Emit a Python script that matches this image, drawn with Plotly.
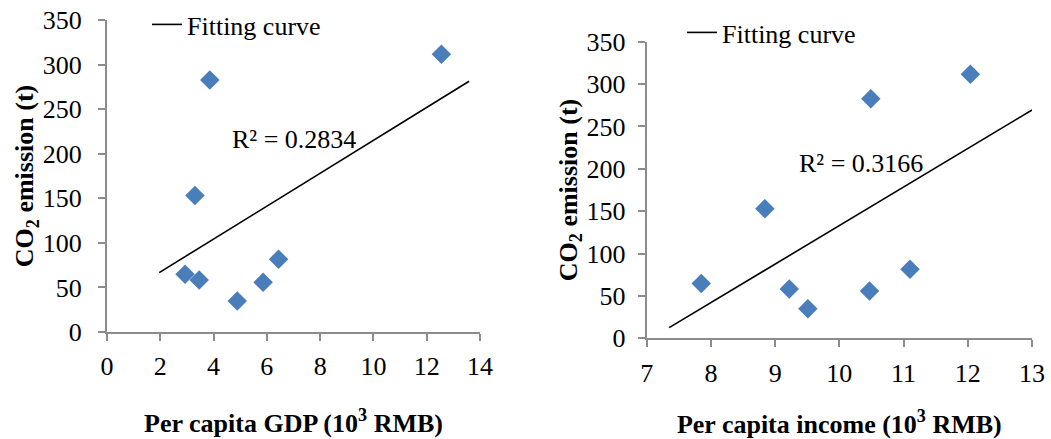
import numpy as np
import plotly.graph_objects as go

# ---- data ----
co2 = [282.8, 311.6, 153.0, 64.7, 58.3, 34.8, 55.7, 81.6]
gdp = [3.86, 12.55, 3.30, 2.93, 3.46, 4.89, 5.86, 6.44]
income = [10.49, 12.04, 8.84, 7.85, 9.22, 9.51, 10.47, 11.10]

gdp_fit_range = [1.96, 13.59]
income_fit_range = [7.35, 13.0]

r2_gdp = "R² = 0.2834"
r2_income = "R² = 0.3166"

gdp_ticks = [0, 2, 4, 6, 8, 10, 12, 14]
income_ticks = [7, 8, 9, 10, 11, 12, 13]
co2_ticks = [0, 50, 100, 150, 200, 250, 300, 350]

# ---- fits ----
def fit(x, y, rng):
    k, b = np.polyfit(x, y, 1)
    xs = np.array(rng)
    return xs, k * xs + b

fx1, fy1 = fit(gdp, co2, gdp_fit_range)
fx2, fy2 = fit(income, co2, income_fit_range)

FONT = "Liberation Serif"
BLUE = "#4a7ebb"
AXIS = "#8c8c8c"

fig = go.Figure()
fig.add_trace(go.Scatter(x=gdp, y=co2, mode="markers", xaxis="x", yaxis="y",
                         marker=dict(symbol="diamond", size=15, color=BLUE),
                         showlegend=False))
fig.add_trace(go.Scatter(x=fx1, y=fy1, mode="lines", xaxis="x", yaxis="y",
                         line=dict(color="black", width=1.6),
                         name="Fitting curve", legend="legend"))
fig.add_trace(go.Scatter(x=income, y=co2, mode="markers", xaxis="x2", yaxis="y2",
                         marker=dict(symbol="diamond", size=15, color=BLUE),
                         showlegend=False))
fig.add_trace(go.Scatter(x=fx2, y=fy2, mode="lines", xaxis="x2", yaxis="y2",
                         line=dict(color="black", width=1.6),
                         name="Fitting curve", legend="legend2"))

W, H = 1051, 439

TF = dict(family=FONT, size=26, color="black")

def axis_common():
    return dict(showgrid=False, zeroline=False, showline=True, linecolor=AXIS,
                linewidth=2, ticks="outside", ticklen=7, tickcolor=AXIS,
                tickwidth=2, automargin=False, tickfont=TF)

xa1 = axis_common()
xa1.update(domain=[107 / W, 480 / W], range=[0, 14], tickvals=gdp_ticks,
           anchor="y", ticklabelstandoff=3,
           title=dict(text="<b>Per capita GDP (10<sup>3</sup> RMB)</b>",
                      font=TF, standoff=34))
ya1 = axis_common()
ya1.update(domain=[1 - 332 / H, 1 - 20 / H], range=[0, 350], tickvals=co2_ticks,
           anchor="x", ticklabelstandoff=11,
           title=dict(text="<b>CO<sub>2</sub> emission (t)</b>",
                      font=TF, standoff=0))
xa2 = axis_common()
xa2.update(domain=[646.7 / W, 1032 / W], range=[7, 13], tickvals=income_ticks,
           anchor="y2", ticklabelstandoff=3,
           title=dict(text="<b>Per capita income (10<sup>3</sup> RMB)</b>",
                      font=TF, standoff=30))
ya2 = axis_common()
ya2.update(domain=[1 - 338.3 / H, 1 - 41.7 / H], range=[0, 350], tickvals=co2_ticks,
           anchor="x2", ticklabelstandoff=7,
           title=dict(text="<b>CO<sub>2</sub> emission (t)</b>",
                      font=TF, standoff=0))

fig.update_layout(
    template="none",
    width=W, height=H,
    margin=dict(l=0, r=0, t=0, b=0),
    paper_bgcolor="white", plot_bgcolor="white",
    font=TF,
    xaxis=xa1, yaxis=ya1, xaxis2=xa2, yaxis2=ya2,
    legend=dict(x=147 / W, y=1 - 1 / H, xanchor="left", yanchor="top",
                bgcolor="rgba(0,0,0,0)", font=TF),
    legend2=dict(x=682 / W, y=1 - 9 / H, xanchor="left", yanchor="top",
                 bgcolor="rgba(0,0,0,0)", font=TF),
    annotations=[
        dict(x=7.03, y=215.5, xref="x", yref="y", text=r2_gdp, showarrow=False,
             font=TF),
        dict(x=10.34, y=205.7, xref="x2", yref="y2", text=r2_income, showarrow=False,
             font=TF),
    ],
)

fig.write_html("out.html")
